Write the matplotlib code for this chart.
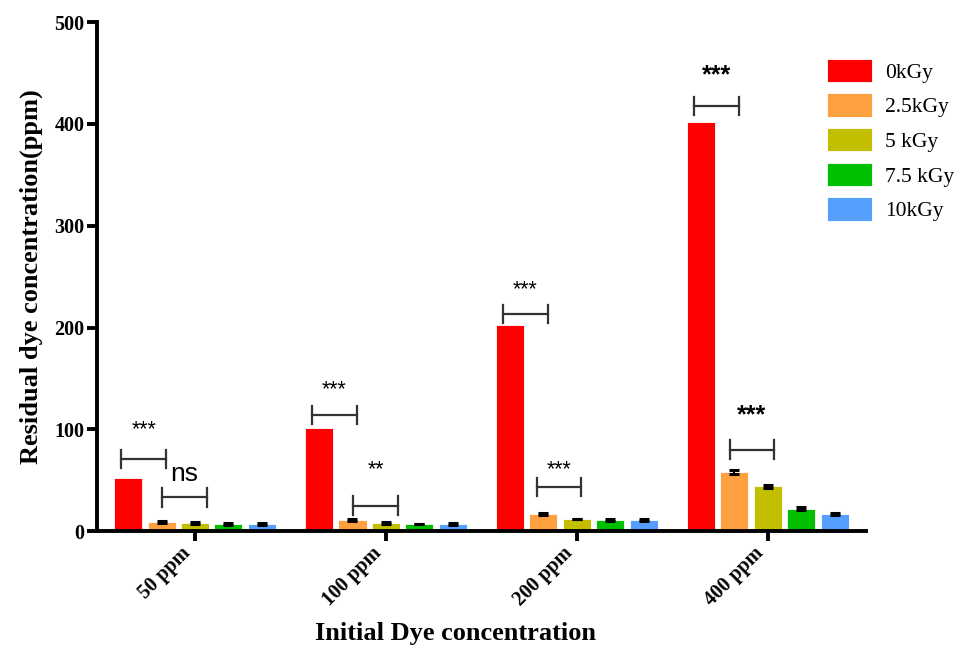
import numpy as np
import matplotlib
matplotlib.use("Agg")
import matplotlib.pyplot as plt

groups = ["50 ppm", "100 ppm", "200 ppm", "400 ppm"]
doses = ["0kGy", "2.5kGy", "5 kGy", "7.5 kGy", "10kGy"]
colors = ["#ff0000", "#ffa040", "#c3be00", "#00c000", "#55a0ff"]

# residual dye (ppm), one list per dose, in group order
res_0 = [52, 101, 202, 402]
res_25 = [9, 11, 17, 58]
res_5 = [7.5, 8, 11.5, 44]
res_75 = [7, 7, 11, 22]
res_10 = [7, 7, 10.5, 16.5]
err_0 = [0, 0, 0, 0]
err_25 = [1.0, 1.0, 1.0, 2.0]
err_5 = [1.0, 1.0, 0.0, 1.5]
err_75 = [0.8, 0.0, 1.0, 1.5]
err_10 = [0.8, 0.8, 1.0, 1.2]

# significance brackets: group, bar i, bar j, bracket height, label, label height, size
sig_group = [0, 0, 1, 1, 2, 2, 3, 3]
sig_i = [0, 1, 0, 1, 0, 1, 0, 1]
sig_j = [1, 2, 1, 2, 1, 2, 1, 2]
sig_shift = [0, 0.04, 0, 0.04, 0, 0, 0, 0.01]
sig_y = [71, 33, 114, 25, 213, 43, 418, 80]
sig_text = ["***", "ns", "***", "**", "***", "***", "***", "***"]
sig_text_y = [100, 56, 139, 60, 237, 60, 448, 114]
sig_size = [15.5, 19, 15.5, 15.5, 15.5, 15.5, 18, 18]

values = [res_0, res_25, res_5, res_75, res_10]
errors = [err_0, err_25, err_5, err_75, err_10]

fig = plt.figure(figsize=(9.73, 6.54), dpi=100)
ax = fig.add_axes([0.0997, 0.188, 0.79, 0.778])

x = np.arange(len(groups))
step = 0.175
width = 0.147
offsets = (np.arange(len(doses)) - 2) * step

for k in range(len(doses)):
    ax.bar(x + offsets[k], values[k], width, color=colors[k], label=doses[k],
           edgecolor="white", linewidth=0.6, zorder=2)
    if k > 0:
        ax.errorbar(x + offsets[k], values[k], yerr=errors[k], fmt="none",
                    ecolor="black", elinewidth=1.5, capsize=3.5, capthick=2.2,
                    zorder=3)

cap = 9
for g, i, j, sh, yb, txt, yt, fs in zip(sig_group, sig_i, sig_j, sig_shift, sig_y,
                                        sig_text, sig_text_y, sig_size):
    x0 = x[g] + offsets[i] - 0.035 + sh
    x1 = x[g] + offsets[j] + 0.022 + sh
    ax.plot([x0, x1], [yb, yb], color="#333333", lw=1.6, zorder=4)
    ax.plot([x0, x0], [yb - cap, yb + cap], color="#333333", lw=1.6, zorder=4)
    ax.plot([x1, x1], [yb - cap, yb + cap], color="#333333", lw=1.6, zorder=4)
    ax.text((x0 + x1) / 2, yt, txt, ha="center", va="center", fontsize=fs,
            family="Liberation Sans",
            fontweight="bold" if fs == 18 else "normal")

ax.set_xlim(-0.513, 3.513)
ax.set_ylim(0, 500)
ax.set_yticks([0, 100, 200, 300, 400, 500])
ax.set_xticks(x)
ax.set_xticklabels(groups, rotation=45, ha="right", va="top")

for lab in ax.get_xticklabels() + ax.get_yticklabels():
    lab.set_family("Liberation Serif")
    lab.set_fontweight("bold")
    lab.set_fontsize(14.5)

ax.spines["top"].set_visible(False)
ax.spines["right"].set_visible(False)
ax.spines["left"].set_linewidth(2.8)
ax.spines["bottom"].set_linewidth(2.8)
ax.tick_params(axis="both", direction="out", length=7, width=2.8, pad=2)

ax.set_xlabel("Initial Dye concentration", family="Liberation Serif",
              fontweight="bold", fontsize=19)
ax.xaxis.set_label_coords(0.466, -0.178)
ax.set_ylabel("Residual dye concentration(ppm)", family="Liberation Serif",
              fontweight="bold", fontsize=19, labelpad=8)

leg = fig.legend(loc="upper left", bbox_to_anchor=(0.83, 0.94), frameon=False,
                 prop={"family": "Liberation Serif", "size": 15.5},
                 handlelength=2.1, handleheight=1.3, labelspacing=0.5,
                 handletextpad=0.6)

fig.savefig("out.png", dpi=100)
